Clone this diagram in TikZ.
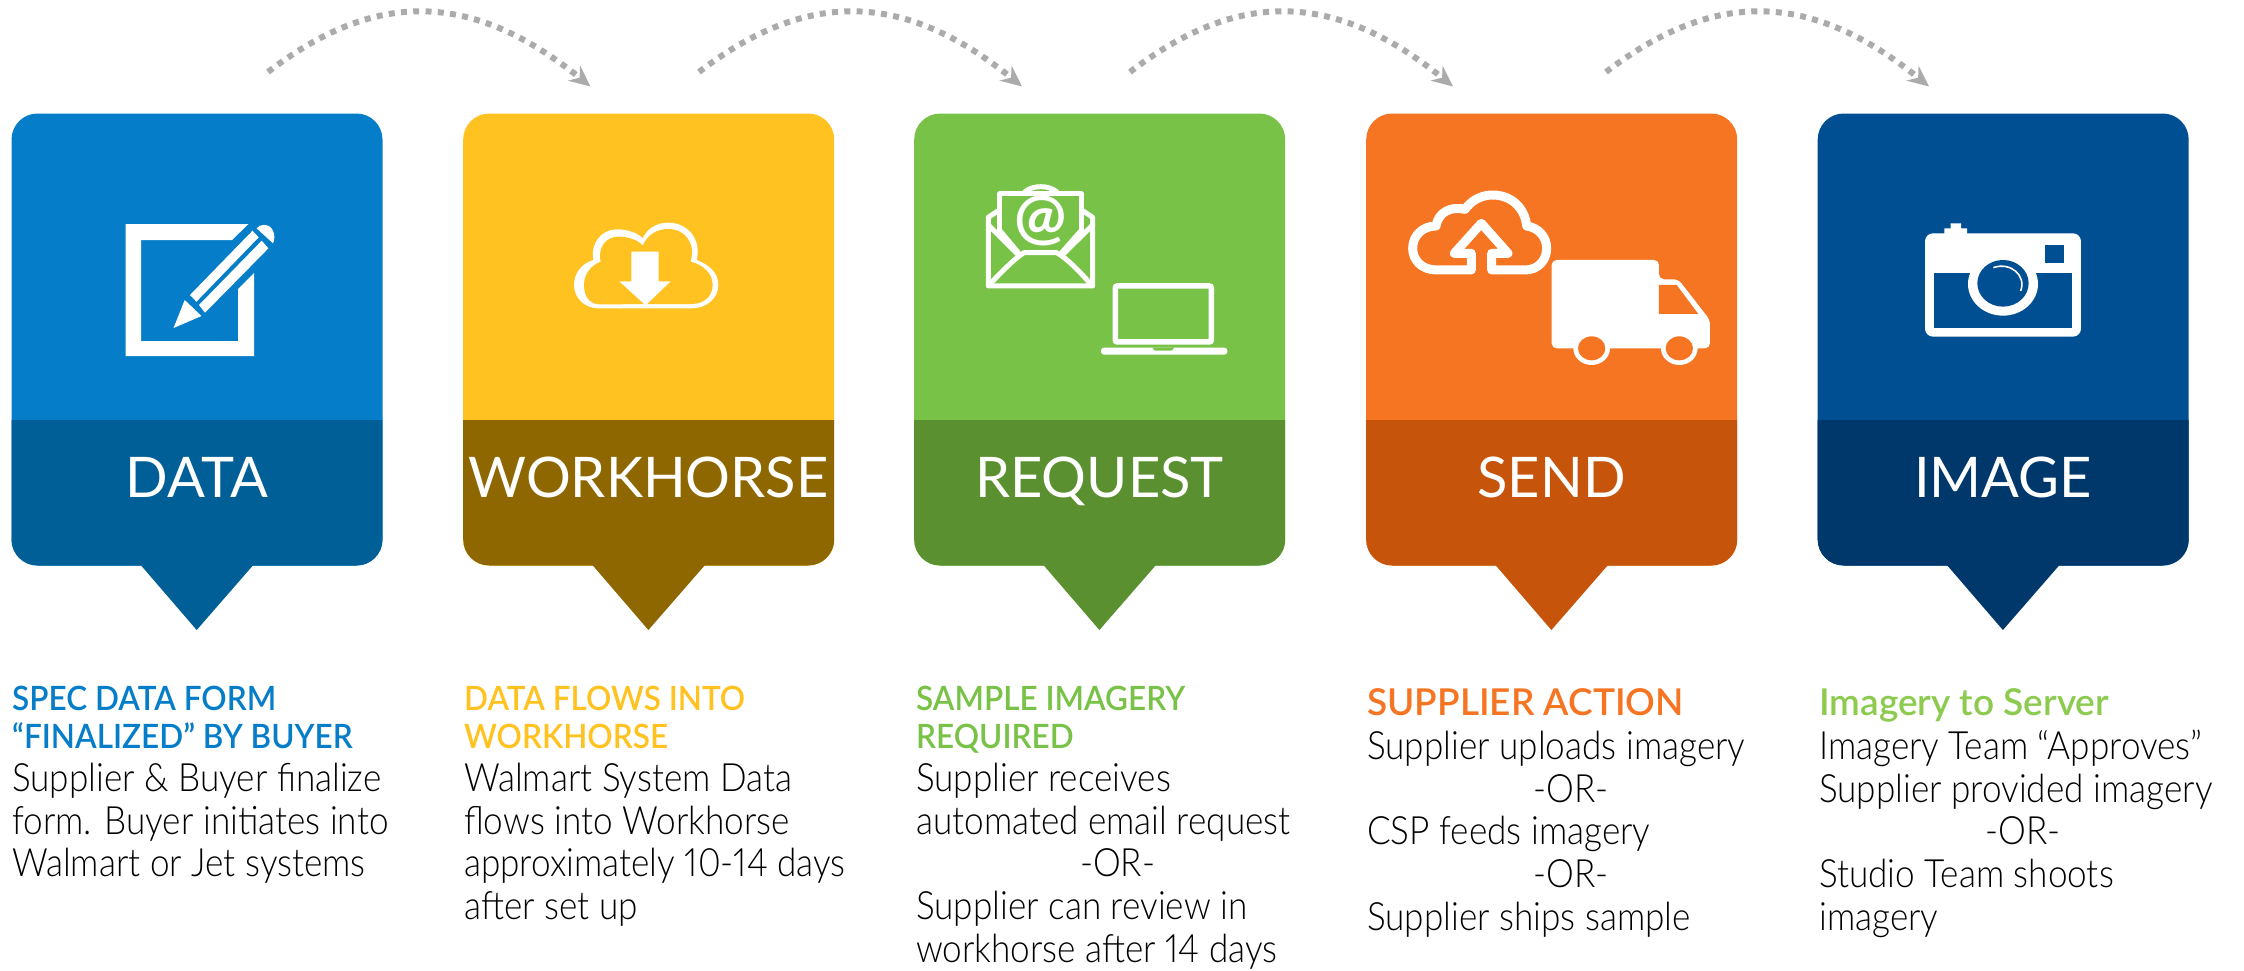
\documentclass[tikz,border=0pt]{standalone}
\usepackage{fontspec}
\usetikzlibrary{arrows.meta}
\setmainfont{Lato}[UprightFont=*-Light,BoldFont=*-Bold,FakeStretch=0.9,Numbers=Proportional]
\newfontfamily\headfont{Lato}[UprightFont=*-Semibold,FakeStretch=0.94]
\newfontfamily\headwide{Lato}[UprightFont=*-Semibold,FakeStretch=1.0]
\newfontfamily\bandfont{Lato}[UprightFont=*-Regular,FakeStretch=1.0]
\newfontfamily\atfont{Lato}[UprightFont=*-Bold]
\definecolor{cblue}{HTML}{057DC9}\definecolor{dblue}{HTML}{005F96}
\definecolor{cyell}{HTML}{FFC220}\definecolor{dyell}{HTML}{8F6700}
\definecolor{cgreen}{HTML}{78C247}\definecolor{dgreen}{HTML}{5A9030}
\definecolor{corange}{HTML}{F57523}\definecolor{dorange}{HTML}{C6540A}
\definecolor{cnavy}{HTML}{004F92}\definecolor{dnavy}{HTML}{00386C}
\definecolor{hgreen}{HTML}{8CCB50}
\definecolor{flow}{HTML}{ABABAB}
\tikzset{
  x=1pt,y=-1pt,
  cardbox/.style={rounded corners=26pt,minimum width=371pt,minimum height=452pt,inner sep=0pt,anchor=north west},
  bandlabel/.style={white,inner sep=0pt,anchor=base,font=\bandfont\fontsize{56}{56}\selectfont},
  headtext/.style={inner sep=0pt,anchor=north west,align=left,font=\headfont\fontsize{33.5}{38}\selectfont},
  headwidetext/.style={headtext,font=\headwide\fontsize{37}{38}\selectfont},
  bodytext/.style={inner sep=0pt,anchor=north west,align=left,font=\fontsize{39}{42.8}\selectfont},
  flowline/.style={flow,line width=6pt,dash pattern=on 6pt off 6.3pt,-{Stealth[length=21pt,width=19pt,inset=7pt]}},
  iconline/.style={white,line width=5pt,line join=round,line cap=round},
}
\newcommand{\fs}{\rule{0pt}{30pt}}
\newcommand{\card}[5]{% name,x,main,dark,label
  \node[cardbox,fill=#3] (#1) at (#2,113.3) {};
  \begin{scope}
    \clip (#2,420) rectangle (#2+371,566);
    \node[cardbox,fill=#4] at (#2,113.3) {};
  \end{scope}
  \fill[#4] (#2+129.4,565) -- (#2+242,565) -- (#2+185.4,630) -- cycle;
  \node[bandlabel] (#1label) at (#2+185.5,497) {#5};
}
\begin{document}
\begin{tikzpicture}
\useasboundingbox (0,0) rectangle (2244,970);
\fill[white] (0,0) rectangle (2244,970);
\card{data}{11.3}{cblue}{dblue}{DATA}
\card{work}{463}{cyell}{dyell}{WORKHORSE}
\card{req}{914}{cgreen}{dgreen}{REQUEST}
\card{send}{1366}{corange}{dorange}{SEND}
\card{img}{1817.5}{cnavy}{dnavy}{IMAGE}

% flow arrows
\coordinate (a1s) at (268,72); \coordinate (a1e) at (590.5,86.5);
\coordinate (a2s) at (699,72); \coordinate (a2e) at (1022,86.5);
\coordinate (a3s) at (1130,72); \coordinate (a3e) at (1453,86.5);
\coordinate (a4s) at (1606,72); \coordinate (a4e) at (1929,86.5);
\draw[flowline] (a1s) .. controls (375,-10) and (471,-10) .. (a1e);
\draw[flowline] (a2s) .. controls (806,-10) and (903,-10) .. (a2e);
\draw[flowline] (a3s) .. controls (1237,-10) and (1334,-10) .. (a3e);
\draw[flowline] (a4s) .. controls (1713,-10) and (1810,-10) .. (a4e);

% icon 1: form and pencil
\fill[white] (125.5,224) -- (248.5,224) -- (232,240) -- (141,240) -- (141,341) -- (238,341) -- (238,289) -- (254,273) -- (254,356) -- (125.5,356) -- cycle;
\fill[white] (173.5,328) -- (184.7,300) -- (201.5,316) -- cycle;
\fill[white] (190,295) -- (252.5,230.7) -- (258.7,237.3) -- (196.4,301.7) -- cycle;
\fill[white] (199,305) -- (261.7,240.7) -- (268.4,248.3) -- (205,312.7) -- cycle;
\fill[white] (256.6,228.3) .. controls (260,224) and (268,223) .. (272,229) .. controls (275,234) and (275,239) .. (273,243.3) -- cycle;

% icon 2: cloud download
\begin{scope}[shift={(560,210)},x=0.3333pt,y=-0.3333pt]
  \fill[white] (115,295) .. controls (75,295) and (42,265) .. (42,225) .. controls (42,190) and (65,160) .. (100,150)
    .. controls (90,100) and (125,58) .. (170,58) .. controls (205,58) and (235,70) .. (248,85)
    .. controls (262,55) and (290,38) .. (325,38) .. controls (385,38) and (425,90) .. (410,150)
    .. controls (450,165) and (475,190) .. (475,225) .. controls (475,265) and (440,295) .. (395,295) -- cycle;
  \fill[cyell] (120,283) .. controls (90,283) and (72,260) .. (72,225) .. controls (72,190) and (95,165) .. (122,155)
    .. controls (112,110) and (140,80) .. (175,80) .. controls (205,80) and (235,90) .. (248,107)
    .. controls (262,75) and (290,57) .. (325,57) .. controls (375,57) and (408,100) .. (392,155)
    .. controls (430,165) and (458,190) .. (458,225) .. controls (458,260) and (430,282) .. (395,282) -- cycle;
  \fill[white] (214,125) -- (296,125) -- (296,214) -- (332,214) -- (257,286) -- (178,214) -- (214,214) -- cycle;
\end{scope}

% icon 3: envelope and laptop
\begin{scope}[shift={(900,100)},x=0.3333pt,y=-0.3333pt]
  \draw[iconline] (265,352) -- (265,558) -- (578,558) -- (578,352) -- (545,330);
  \draw[iconline] (265,352) -- (298,330);
  \draw[iconline] (298,390) -- (298,282) -- (545,282) -- (545,390);
  \draw[iconline] (375,275) .. controls (400,255) and (445,255) .. (470,275);
  \draw[iconline] (265,375) -- (352,462);
  \draw[iconline] (578,375) -- (490,462);
  \draw[iconline] (298,390) -- (355,458);
  \draw[iconline] (545,390) -- (485,458);
  \draw[iconline] (270,552) .. controls (310,510) and (345,475) .. (372,458) -- (470,458) .. controls (500,475) and (535,510) .. (572,552);
  \node[white,inner sep=0pt,font=\atfont\fontsize{62}{62}\selectfont] (atsign) at (422,362) {@};
  \draw[white,line width=5.5pt,rounded corners=2pt] (646,558) rectangle (934,726);
  \fill[white,rounded corners=3pt] (603,743) rectangle (982,764);
  \fill[cgreen] (758,743) -- (822,743) .. controls (820,752) and (815,752) .. (810,752) -- (770,752) .. controls (765,752) and (760,752) .. (758,743) -- cycle;
\end{scope}

% icon 4: cloud upload and truck
\begin{scope}[shift={(1370,100)},x=0.3333pt,y=-0.3333pt]
  \draw[white,line width=9pt,line join=round] (304,510) -- (200,510) .. controls (155,510) and (128,480) .. (128,445) .. controls (128,405) and (160,378) .. (198,378)
   .. controls (205,335) and (245,318) .. (285,328) .. controls (305,300) and (335,285) .. (368,285) .. controls (425,285) and (465,325) .. (470,378)
   .. controls (505,383) and (530,410) .. (530,445) .. controls (530,480) and (505,510) .. (465,510) -- (365,510) -- (365,460) -- (414,460) -- (334,370) -- (253,460) -- (304,460) -- cycle;
  \fill[white,rounded corners=5pt] (545,480) -- (867,480) -- (867,538) -- (925,538) -- (1020,660) -- (1020,745) -- (545,745) -- cycle;
  \fill[corange] (867,555) -- (920,555) -- (985,642) -- (867,642) -- cycle;
  \foreach \wx in {665,928}{
    \fill[white] (\wx,745) ellipse [x radius=55,y radius=50];
    \fill[corange] (\wx,745) ellipse [x radius=41,y radius=36];
  }
\end{scope}

% icon 5: camera
\begin{scope}[shift={(1810,100)},x=0.3333pt,y=-0.3333pt]
  \fill[white,rounded corners=8pt] (345,400) rectangle (813,710);
  \fill[white] (403,402) -- (403,385) -- (422,385) -- (422,370) -- (453,370) -- (453,385) -- (471,385) -- (471,402) -- cycle;
  \fill[cnavy] (373,520) rectangle (786,684);
  \fill[cnavy] (704,435) rectangle (762,488);
  \fill[white] (579,552) ellipse [x radius=105,y radius=95];
  \fill[cnavy] (579,550) ellipse [x radius=77,y radius=70];
  \draw[white,line width=1.6pt] (550,503) .. controls (600,485) and (650,525) .. (632,573);
\end{scope}

% texts
\node[headtext,text=cblue] (h1) at (12,680.5) {\fs SPEC DATA FORM\\“FINALIZED” BY BUYER};
\node[bodytext] (b1) at (12,761) {\fs Supplier \& Buyer finalize\\form. Buyer initiates into\\Walmart or Jet systems};
\node[headtext,text=cyell] (h2) at (464,680.5) {\fs DATA FLOWS INTO\\WORKHORSE};
\node[bodytext] (b2) at (464,761) {\fs Walmart System Data\\flows into Workhorse\\approximately 10-14 days\\after set up};
\node[headtext,text=cgreen] (h3) at (916,680.5) {\fs SAMPLE IMAGERY\\REQUIRED};
\node[bodytext] (b3) at (916,761) {\fs Supplier receives\\automated email request\\\hspace*{164pt}-OR-\\Supplier can review in\\workhorse after 14 days};
\node[headwidetext,text=corange] (h4) at (1367,685) {\fs SUPPLIER ACTION};
\node[bodytext] (b4) at (1367,729) {\fs Supplier uploads imagery\\\hspace*{166pt}-OR-\\CSP feeds imagery\\\hspace*{166pt}-OR-\\Supplier ships sample};
\node[headwidetext,text=hgreen] (h5) at (1819,685) {\fs Imagery to Server};
\node[bodytext] (b5) at (1819,729) {\fs Imagery Team “Approves”\\Supplier provided imagery\\\hspace*{166pt}-OR-\\Studio Team shoots\\imagery};
\end{tikzpicture}
\end{document}
